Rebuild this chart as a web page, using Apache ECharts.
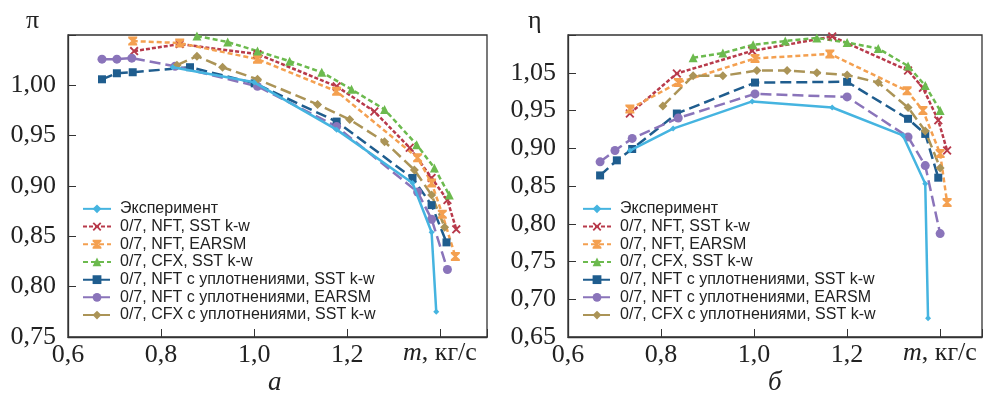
<!DOCTYPE html>
<html>
<head>
<meta charset="utf-8">
<script src="https://cdn.jsdelivr.net/npm/echarts@6/dist/echarts.min.js"></script>
<style>
  html, body { margin: 0; padding: 0; background: #fff; }
  #chart { width: 986px; height: 408px; }
</style>
</head>
<body>
<div id="chart"></div>
<script>
// series names (legend)
const names = [
  'Эксперимент',
  '0/7, NFT, SST k-w',
  '0/7, NFT, EARSM',
  '0/7, CFX, SST k-w',
  '0/7, NFT с уплотнениями, SST k-w',
  '0/7, NFT с уплотнениями, EARSM',
  '0/7, CFX с уплотнениями, SST k-w'
];

// tick labels
const xTickLabels = { 60: '0,6', 80: '0,8', 100: '1,0', 120: '1,2' };
const piTickLabels = { 75: '0,75', 80: '0,80', 85: '0,85', 90: '0,90', 95: '0,95', 100: '1,00' };
// the original figure labels the top tick of the right chart "1,05"
const etaTickLabels = { 65: '0,65', 70: '0,70', 75: '0,75', 80: '0,80', 85: '0,85', 90: '0,90', 95: '0,95', 100: '1,05' };

// (a) pressure ratio pi vs mass flow [m, pi]
const piExp = [[0.825, 1.018], [1.0, 1.003], [1.177, 0.956], [1.34, 0.903], [1.381, 0.854], [1.391, 0.775]];
const piNftSst = [[0.742, 1.034], [0.84, 1.041], [1.007, 1.031], [1.177, 0.999], [1.258, 0.974], [1.334, 0.938], [1.381, 0.908], [1.415, 0.886], [1.434, 0.857]];
const piNftEarsm = [[0.739, 1.044], [0.84, 1.042], [1.007, 1.026], [1.177, 0.994], [1.351, 0.928], [1.381, 0.903], [1.404, 0.872], [1.432, 0.83]];
const piCfxSst = [[0.877, 1.049], [0.943, 1.043], [1.007, 1.034], [1.076, 1.024], [1.145, 1.013], [1.209, 0.996], [1.28, 0.976], [1.349, 0.941], [1.387, 0.918], [1.419, 0.891]];
const piNftSealSst = [[0.673, 1.006], [0.705, 1.012], [0.739, 1.013], [0.862, 1.018], [1.001, 1.002], [1.177, 0.964], [1.34, 0.908], [1.381, 0.881], [1.413, 0.844]];
const piNftSealEarsm = [[0.673, 1.026], [0.705, 1.026], [0.737, 1.027], [0.83, 1.019], [1.007, 0.999], [1.177, 0.959], [1.351, 0.894], [1.381, 0.867], [1.415, 0.817]];
const piCfxSealSst = [[0.834, 1.02], [0.877, 1.029], [0.932, 1.018], [1.007, 1.006], [1.136, 0.981], [1.205, 0.966], [1.28, 0.944], [1.344, 0.916], [1.381, 0.891], [1.409, 0.859]];

// (б) efficiency eta vs mass flow [m, eta]
const etaExp = [[0.733, 0.897], [0.826, 0.926], [0.996, 0.962], [1.168, 0.954], [1.32, 0.917], [1.368, 0.853], [1.374, 0.675]];
const etaNftSst = [[0.733, 0.946], [0.834, 0.999], [0.996, 1.029], [1.168, 1.048], [1.331, 1.003], [1.363, 0.98], [1.396, 0.937], [1.415, 0.897]];
const etaNftEarsm = [[0.733, 0.952], [0.837, 0.987], [1.002, 1.019], [1.163, 1.025], [1.329, 0.976], [1.363, 0.95], [1.4, 0.893], [1.415, 0.828]];
const etaCfxSst = [[0.869, 1.02], [0.933, 1.026], [0.998, 1.037], [1.067, 1.042], [1.135, 1.046], [1.2, 1.04], [1.267, 1.032], [1.331, 1.009], [1.368, 0.983], [1.4, 0.95]];
const etaNftSealSst = [[0.669, 0.864], [0.705, 0.884], [0.738, 0.899], [0.834, 0.946], [1.002, 0.987], [1.2, 0.988], [1.331, 0.939], [1.368, 0.919], [1.396, 0.861]];
const etaNftSealEarsm = [[0.669, 0.882], [0.701, 0.897], [0.738, 0.913], [0.837, 0.94], [1.002, 0.972], [1.2, 0.968], [1.331, 0.915], [1.368, 0.877], [1.4, 0.787]];
const etaCfxSealSst = [[0.804, 0.956], [0.869, 0.996], [0.933, 0.996], [1.006, 1.003], [1.071, 1.003], [1.135, 1.0], [1.2, 0.997], [1.267, 0.987], [1.331, 0.954], [1.368, 0.923], [1.4, 0.874]];

const piSets = [piExp, piNftSst, piNftEarsm, piCfxSst, piNftSealSst, piNftSealEarsm, piCfxSealSst];
const etaSets = [etaExp, etaNftSst, etaNftEarsm, etaCfxSst, etaNftSealSst, etaNftSealEarsm, etaCfxSealSst];

// styles
const colors = ['#45b4e0', '#b83a4b', '#f4a050', '#6cba4e', '#1f5d8e', '#8a74ba', '#ab9457'];
const dashes = ['solid', [4, 2], [5, 3], [5, 3], [11, 5], [11, 5], [11, 5]];
const xMark = 'path://M0,1.5L1.5,0L5,3.5L8.5,0L10,1.5L6.5,5L10,8.5L8.5,10L5,6.5L1.5,10L0,8.5L3.5,5Z';
const hourglass = 'path://M0,0L10,0L10,2L6.5,5L10,8L10,10L0,10L0,8L3.5,5L0,2Z';
const symbols = ['diamond', xMark, hourglass, 'triangle', 'rect', 'circle', 'diamond'];
const symbolSizes = [6, 9, 9, 9, 8, 9, 9];

const serif = 'Liberation Serif';
const sans = 'Liberation Sans';

var myChart = echarts.init(document.getElementById('chart'));

function makeSeries(sets, axisIndex) {
    return sets.map(function (d, i) {
        return {
            name: names[i],
            type: 'line',
            xAxisIndex: axisIndex,
            yAxisIndex: axisIndex,
            data: d,
            symbol: symbols[i],
            symbolSize: symbolSizes[i],
            showAllSymbol: true,
            lineStyle: { color: colors[i], width: 2.5, type: dashes[i] },
            itemStyle: { color: colors[i] },
            z: i == 0 ? 3 : 2
        };
    });
}

function xAxis(grid, max) {
    return {
        type: 'value', gridIndex: grid, min: 0.6, max: max, interval: 0.2,
        axisLine: { show: true, lineStyle: { color: '#333', width: 1.3 } },
        axisTick: { show: true, inside: true, length: 8, lineStyle: { color: '#333' } },
        splitLine: { show: false },
        axisLabel: {
            margin: 5, fontFamily: serif, fontSize: 26, color: '#222',
            formatter: function (v) { return xTickLabels[Math.round(v * 100)] || ''; }
        }
    };
}

function yAxis(grid, min, labels) {
    return {
        type: 'value', gridIndex: grid, min: min, max: 1.05, interval: 0.05,
        axisLine: { show: true, lineStyle: { color: '#333', width: 1.3 } },
        axisTick: { show: true, inside: true, length: 8, lineStyle: { color: '#333' } },
        splitLine: { show: false },
        axisLabel: {
            margin: 12, fontFamily: serif, fontSize: 26, color: '#222',
            formatter: function (v) { return labels[Math.round(v * 100)] || ''; }
        }
    };
}

function legend(left) {
    return {
        orient: 'vertical', left: left, top: 200, padding: 0,
        itemWidth: 28, itemHeight: 11, itemGap: 0,
        textStyle: { fontFamily: sans, fontSize: 16, lineHeight: 17.7, color: '#222', padding: [0, 0, 0, 4] },
        data: names
    };
}

function label(x, y, style) {
    return { type: 'text', left: x, top: y, style: style };
}

var option = {
    animation: false,
    grid: [
        { left: 68, top: 35, width: 419, height: 302, show: true, borderColor: '#333', borderWidth: 1.3 },
        { left: 568, top: 35, width: 414, height: 302, show: true, borderColor: '#333', borderWidth: 1.3 }
    ],
    xAxis: [xAxis(0, 1.5), xAxis(1, 1.49)],
    yAxis: [yAxis(0, 0.75, piTickLabels), yAxis(1, 0.65, etaTickLabels)],
    legend: [legend(82), legend(582)],
    graphic: [
        label(26, 8, { text: 'π', font: '26px ' + serif, fill: '#222' }),
        label(528, 8, { text: 'η', font: '26px ' + serif, fill: '#222' }),
        label(403, 340, {
            text: '{i|m}, кг/с',
            rich: { i: { font: 'italic 26px ' + serif, fill: '#222' } },
            font: '26px ' + serif, fill: '#222'
        }),
        label(903, 340, {
            text: '{i|m}, кг/с',
            rich: { i: { font: 'italic 26px ' + serif, fill: '#222' } },
            font: '26px ' + serif, fill: '#222'
        }),
        label(268, 369, { text: 'а', font: 'italic 27px ' + serif, fill: '#222' }),
        label(768, 369, { text: 'б', font: 'italic 27px ' + serif, fill: '#222' })
    ],
    series: makeSeries(piSets, 0).concat(makeSeries(etaSets, 1))
};
option && myChart.setOption(option);
</script>
</body>
</html>
